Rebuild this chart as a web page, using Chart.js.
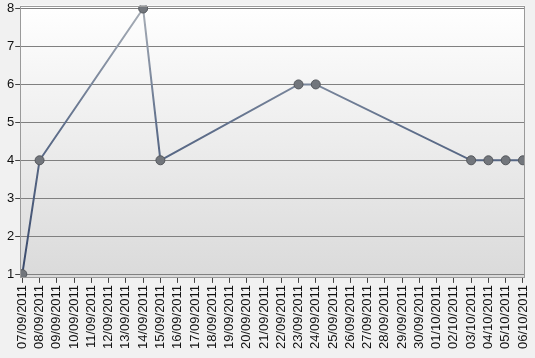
<!DOCTYPE html>
<html>
<head>
<meta charset="UTF-8">
<title>Chart</title>
<script src="https://cdn.jsdelivr.net/npm/chart.js"></script>
<style>
    html, body { margin: 0; padding: 0; background: #f1f1f1; }
    #box { width: 535px; height: 358px; }
</style>
</head>
<body>
<div id="box"><canvas id="myChart"></canvas></div>
<script>
    // dias do periodo
    const datas = [
        '07/09/2011', '08/09/2011', '09/09/2011', '10/09/2011', '11/09/2011',
        '12/09/2011', '13/09/2011', '14/09/2011', '15/09/2011', '16/09/2011',
        '17/09/2011', '18/09/2011', '19/09/2011', '20/09/2011', '21/09/2011',
        '22/09/2011', '23/09/2011', '24/09/2011', '25/09/2011', '26/09/2011',
        '27/09/2011', '28/09/2011', '29/09/2011', '30/09/2011', '01/10/2011',
        '02/10/2011', '03/10/2011', '04/10/2011', '05/10/2011', '06/10/2011'
    ];
    // valores (null = sem medida no dia)
    const valores = [
        1, 4, null, null, null, null, null, 8, 4, null,
        null, null, null, null, null, null, 6, 6, null, null,
        null, null, null, null, null, null, 4, 4, 4, 4
    ];
    const ticksY = [1, 2, 3, 4, 5, 6, 7, 8];

    const pontos = valores.map((v, i) => ({ x: i, y: v }));

    // fundo em degrade da area do grafico
    const fundo = {
        id: 'fundo',
        beforeDraw(chart) {
            const { ctx, chartArea: a } = chart;
            const g = ctx.createLinearGradient(0, a.top, 0, a.bottom);
            g.addColorStop(0, '#ffffff');
            g.addColorStop(1, '#dadada');
            ctx.save();
            ctx.fillStyle = g;
            ctx.fillRect(a.left, a.top, a.width, a.height);
            ctx.restore();
        },
        afterDraw(chart) {
            const { ctx, chartArea: a } = chart;
            ctx.save();
            ctx.strokeStyle = '#9a9a9a';
            ctx.lineWidth = 1;
            ctx.strokeRect(Math.round(a.left) + 0.5, Math.round(a.top) + 0.5,
                Math.round(a.width) - 1, Math.round(a.height) - 1);
            ctx.restore();
        }
    };

    const ctx = document.getElementById('myChart');

    new Chart(ctx, {
        type: 'line',
        data: {
            datasets: [{
                data: pontos,
                spanGaps: true,
                borderWidth: 2,
                borderColor: function (c) {
                    const a = c.chart.chartArea;
                    if (!a) return '#5a6a85';
                    const g = c.chart.ctx.createLinearGradient(0, a.top, 0, a.bottom);
                    g.addColorStop(0, '#aab0b8');
                    g.addColorStop(0.45, '#5f6f8b');
                    g.addColorStop(1, '#38486a');
                    return g;
                },
                pointRadius: 4.5,
                pointBackgroundColor: '#72767c',
                pointBorderColor: '#55585d',
                pointBorderWidth: 1,
                tension: 0
            }]
        },
        plugins: [fundo],
        options: {
            responsive: true,
            maintainAspectRatio: false,
            animation: false,
            layout: { padding: { top: 3, right: 10, bottom: 7, left: 6 } },
            plugins: {
                legend: { display: false },
                tooltip: { enabled: false }
            },
            scales: {
                x: {
                    type: 'linear',
                    min: -0.12,
                    max: 29.12,
                    afterBuildTicks: s => { s.ticks = datas.map((d, i) => ({ value: i })); },
                    afterFit: s => { s.paddingRight = 0; s.paddingLeft = 0; },
                    ticks: {
                        autoSkip: false,
                        minRotation: 90,
                        maxRotation: 90,
                        color: '#111',
                        padding: 2,
                        font: { family: 'Liberation Sans', size: 13 },
                        callback: (v) => datas[v]
                    },
                    grid: { drawOnChartArea: false, drawTicks: true, tickLength: 5, color: '#444' },
                    border: { display: false }
                },
                y: {
                    min: 0.9,
                    max: 8.08,
                    afterBuildTicks: s => { s.ticks = ticksY.map(v => ({ value: v })); },
                    afterFit: s => { s.paddingTop = 0; s.paddingBottom = 0; },
                    ticks: {
                        color: '#111',
                        padding: 1,
                        font: { family: 'Liberation Sans', size: 13 }
                    },
                    grid: { color: '#808080', tickLength: 5, tickColor: '#444' },
                    border: { display: false }
                }
            }
        }
    });
</script>
</body>
</html>
